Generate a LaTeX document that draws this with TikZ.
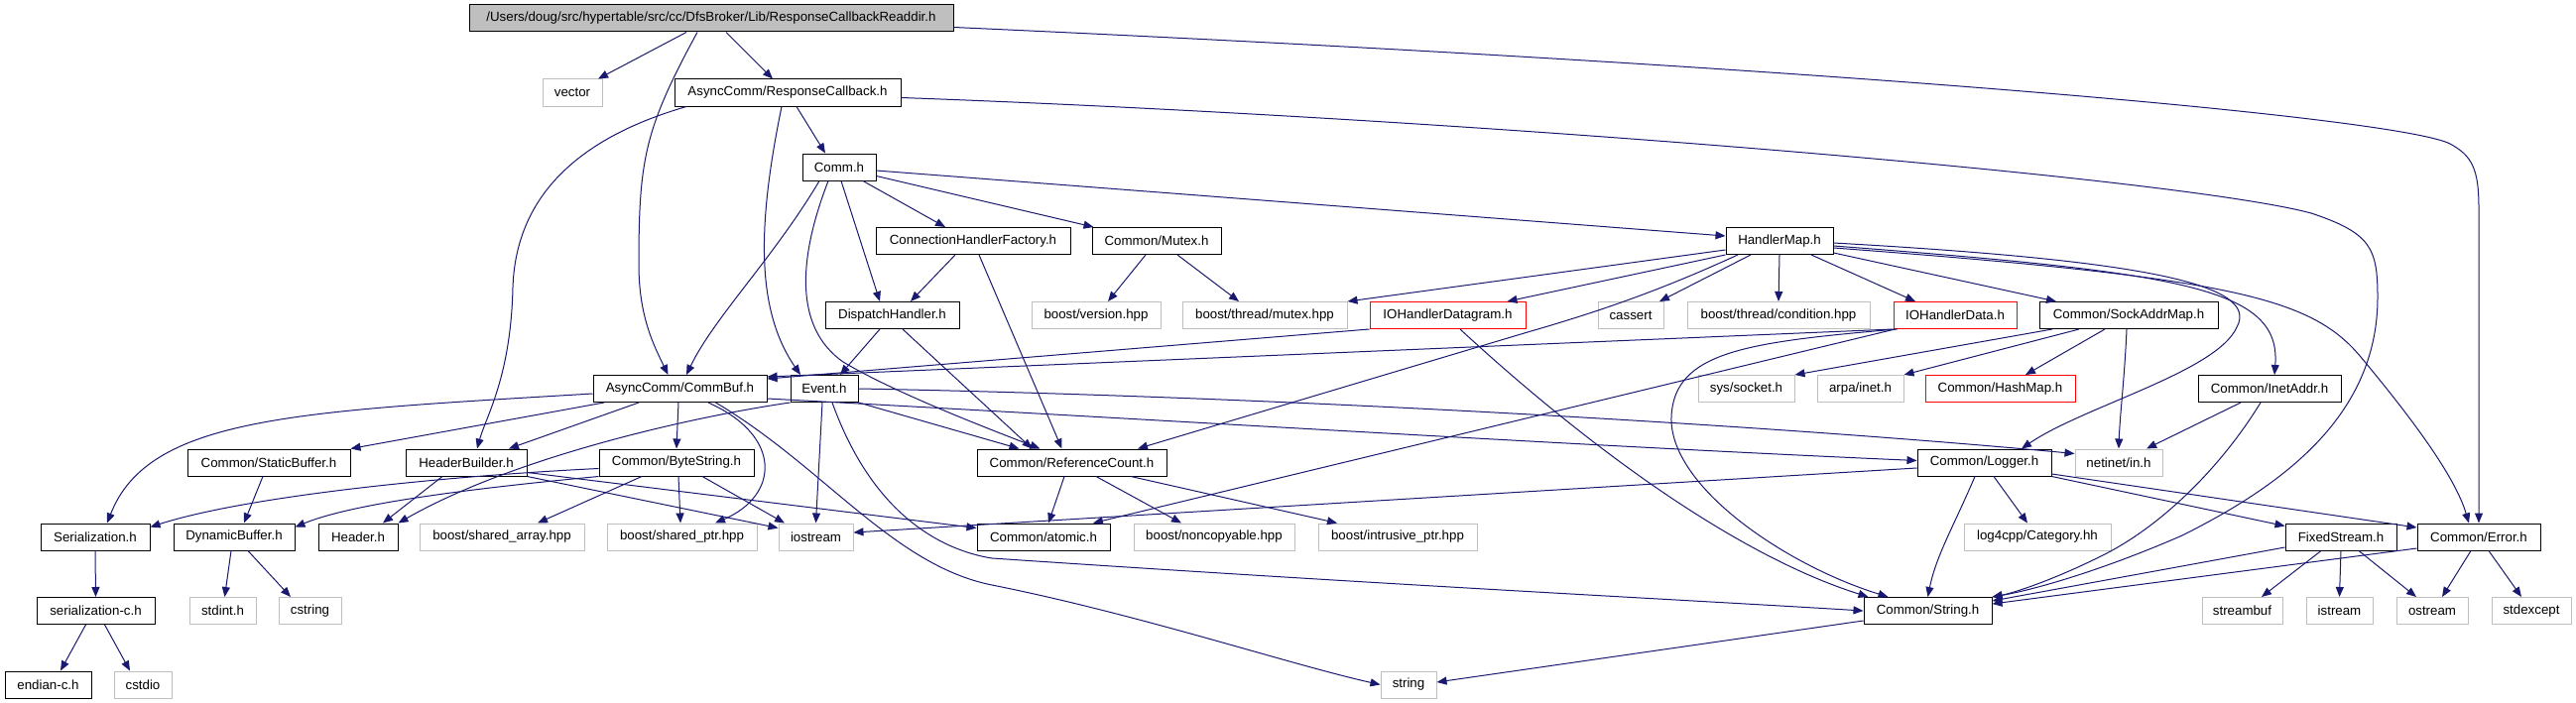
\documentclass[tikz,border=0pt]{standalone}
\usepackage{fontspec}
\setmainfont{Liberation Sans}
\usetikzlibrary{arrows.meta}
\definecolor{edgec}{HTML}{191970}
\definecolor{grayc}{HTML}{BFBFBF}
\begin{document}
\begin{tikzpicture}[x=1pt,y=-1pt,
  font=\fontsize{13.3}{16}\selectfont,
  bx/.style={draw=black,line width=1pt,rectangle,inner sep=0pt,minimum height=27pt,fill=white},
  gx/.style={bx,draw=grayc},
  rx/.style={bx,draw=red},
  e/.style={draw=edgec,line width=1pt,-{Triangle[length=10pt,width=8pt]}}]
\fill[white] (0,0) rectangle (2597,709);
\useasboundingbox (0,0) rectangle (2597,709);
% nodes
\node[bx,fill=grayc,minimum width=488pt] (top) at (717,18.5) {/Users/doug/src/hypertable/src/cc/DfsBroker/Lib/ResponseCallbackReaddir.h};
\node[gx,minimum width=60pt] (vector) at (577,93.5) {vector};
\node[bx,minimum width=228pt] (rc) at (794,93.5) {AsyncComm/ResponseCallback.h};
\node[bx,minimum width=74pt] (comm) at (846,168.5) {Comm.h};
\node[bx,minimum width=196pt] (chf) at (981,243) {ConnectionHandlerFactory.h};
\node[bx,minimum width=130pt] (mutex) at (1166,243) {Common/Mutex.h};
\node[bx,minimum width=108pt] (hm) at (1794,243) {HandlerMap.h};
\node[bx,minimum width=135pt] (disp) at (899.5,318) {DispatchHandler.h};
\node[gx,minimum width=130pt] (bver) at (1105,318) {boost/version.hpp};
\node[gx,minimum width=166pt] (bmut) at (1275,318) {boost/thread/mutex.hpp};
\node[rx,minimum width=157pt] (iodg) at (1459.5,318) {IOHandlerDatagram.h};
\node[gx,minimum width=66pt] (cassert) at (1644,318) {cassert};
\node[gx,minimum width=184pt] (bcond) at (1793,318) {boost/thread/condition.hpp};
\node[rx,minimum width=124pt] (iod) at (1971,318) {IOHandlerData.h};
\node[bx,minimum width=180pt] (sam) at (2146,318) {Common/SockAddrMap.h};
\node[bx,minimum width=175pt] (cb) at (685.5,392) {AsyncComm/CommBuf.h};
\node[bx,minimum width=68pt] (event) at (831,392) {Event.h};
\node[gx,minimum width=97pt] (sock) at (1760.5,392) {sys/socket.h};
\node[gx,minimum width=87pt] (arpa) at (1875.5,392) {arpa/inet.h};
\node[rx,minimum width=151pt] (hash) at (2016.5,392) {Common/HashMap.h};
\node[bx,minimum width=144pt] (inet) at (2288,392) {Common/InetAddr.h};
\node[bx,minimum width=164pt] (sbuf) at (271,466.5) {Common/StaticBuffer.h};
\node[bx,minimum width=122pt] (hb) at (470,466.5) {HeaderBuilder.h};
\node[bx,minimum width=156pt] (bs) at (682,466.5) {Common/ByteString.h};
\node[bx,minimum width=191pt] (rcnt) at (1080.5,466.5) {Common/ReferenceCount.h};
\node[bx,minimum width=135pt] (log) at (2000.5,466.5) {Common/Logger.h};
\node[gx,minimum width=88pt] (netin) at (2136,466.5) {netinet/in.h};
\node[bx,minimum width=110pt] (ser) at (96,541.5) {Serialization.h};
\node[bx,minimum width=122pt] (dbuf) at (236,541.5) {DynamicBuffer.h};
\node[bx,minimum width=80pt] (hdr) at (361,541.5) {Header.h};
\node[gx,minimum width=166pt] (sarr) at (506,541.5) {boost/shared\_array.hpp};
\node[gx,minimum width=151pt] (sptr) at (687.5,541.5) {boost/shared\_ptr.hpp};
\node[gx,minimum width=75pt] (iostr) at (822.5,541.5) {iostream};
\node[bx,minimum width=134pt] (atom) at (1052,541.5) {Common/atomic.h};
\node[gx,minimum width=162pt] (nonc) at (1224,541.5) {boost/noncopyable.hpp};
\node[gx,minimum width=160pt] (intr) at (1409,541.5) {boost/intrusive\_ptr.hpp};
\node[gx,minimum width=148pt] (l4c) at (2054,541.5) {log4cpp/Category.hh};
\node[bx,minimum width=112pt] (fs) at (2360,541.5) {FixedStream.h};
\node[bx,minimum width=124pt] (err) at (2499,541.5) {Common/Error.h};
\node[bx,minimum width=119pt] (serc) at (96.5,616) {serialization-c.h};
\node[gx,minimum width=67pt] (stdint) at (224.5,616) {stdint.h};
\node[gx,minimum width=63pt] (cstring) at (312.5,616) {cstring};
\node[bx,minimum width=129pt] (str) at (1943.5,616) {Common/String.h};
\node[gx,minimum width=81pt] (sbufh) at (2260.5,616) {streambuf};
\node[gx,minimum width=67pt] (istr) at (2358.5,616) {istream};
\node[gx,minimum width=72pt] (ostr) at (2452,616) {ostream};
\node[gx,minimum width=80pt] (stdex) at (2552,616) {stdexcept};
\node[bx,minimum width=87pt] (endian) at (48.5,690.5) {endian-c.h};
\node[gx,minimum width=58pt] (cstdio) at (144,690.5) {cstdio};
\node[gx,minimum width=56pt] (strg) at (1420,690.5) {string};
% edges: top
\draw[e] ([xshift=-25pt]top.south) -- ([xshift=26pt]vector.north);
\draw[e] ([xshift=15pt]top.south) -- ([xshift=-15pt]rc.north);
\draw[e] ([xshift=-14pt]top.south) .. controls (650,130) and (644,160) .. (644,267) .. controls (644,320) and (660,350) .. ([xshift=-12pt]cb.north);
\draw[e] ([yshift=-9pt]top.east) .. controls (1900,70) and (2420,120) .. (2470,145) .. controls (2492,157) and (2499,170) .. (2499,210) -- (err.north);
% ResponseCallback
\draw[e] ([yshift=-5pt]rc.east) .. controls (1500,120) and (2200,180) .. (2330,215) .. controls (2390,235) and (2397,250) .. (2397,300) .. controls (2397,420) and (2300,490) .. (2200,540) .. controls (2120,575) and (2050,595) .. (str.north east);
\draw[e] ([xshift=9pt]rc.south) -- ([xshift=-14pt]comm.north);
\draw[e] ([xshift=-102pt]rc.south) .. controls (580,140) and (520,200) .. (517,290) .. controls (515,380) and (490,420) .. ([xshift=11pt]hb.north);
\draw[e] ([xshift=-6pt]rc.south) .. controls (765,220) and (760,310) .. ([xshift=-24pt]event.north);
% Comm
\draw[e] ([yshift=-3.5pt]comm.east) -- ([yshift=5pt]hm.west);
\draw[e] ([yshift=-9pt]comm.east) -- ([xshift=2pt]mutex.north west);
\draw[e] ([xshift=24pt]comm.south) -- ([xshift=-28pt]chf.north);
\draw[e] ([xshift=2pt]comm.south) -- ([xshift=-12.5pt]disp.north);
\draw[e] ([xshift=-20pt]comm.south) .. controls (780,260) and (720,320) .. ([xshift=6.5pt]cb.north);
\draw[e] ([xshift=-11pt]comm.south) .. controls (805,260) and (800,330) .. (850,365) .. controls (900,395) and (990,430) .. ([xshift=-32pt]rcnt.north);
% CHF, Dispatch, Mutex
\draw[e] ([xshift=-18pt]chf.south) -- ([xshift=18.5pt]disp.north);
\draw[e] ([xshift=6pt]chf.south) -- ([xshift=-10pt]rcnt.north);
\draw[e] ([xshift=-12.5pt]disp.south) -- ([xshift=16pt]event.north);
\draw[e] ([xshift=10.5pt]disp.south) -- ([xshift=-40pt]rcnt.north);
\draw[e] ([xshift=-11pt]mutex.south) -- ([xshift=12pt]bver.north);
\draw[e] ([xshift=21pt]mutex.south) -- ([xshift=-26pt]bmut.north);
% HandlerMap
\draw[e] ([yshift=-9pt]hm.west) -- (bmut.north east);
\draw[e] (hm.south west) -- ([xshift=60pt]iodg.north);
\draw[e] ([xshift=-42pt]hm.south) .. controls (1680,290) and (1620,312) .. (1540,335) -- ([xshift=66.5pt]rcnt.north);
\draw[e] ([xshift=-29pt]hm.south) -- ([xshift=29pt]cassert.north);
\draw[e] (hm.south) -- (bcond.north);
\draw[e] ([xshift=32pt]hm.south) -- ([xshift=-40pt]iod.north);
\draw[e] ([yshift=-12pt]hm.east) -- ([xshift=-73pt]sam.north);
\draw[e] ([yshift=-2pt]hm.east) .. controls (2150,262) and (2280,285) .. (2255,330) .. controls (2235,375) and (2100,410) .. ([xshift=37.5pt]log.north);
\draw[e] ([yshift=-5pt]hm.east) .. controls (2200,275) and (2300,290) .. ([xshift=5pt]inet.north);
\draw[e] ([yshift=-7pt]hm.east) .. controls (2250,280) and (2330,300) .. (2380,360) .. controls (2430,420) and (2475,480) .. ([xshift=-10pt]err.north);
% IOHandlers
\draw[e] (iodg.south west) -- ([yshift=-4pt]cb.north east);
\draw[e] ([xshift=12.5pt]iodg.south) .. controls (1600,450) and (1750,560) .. ([xshift=-60pt]str.north);
\draw[e] (iod.south west) -- ([yshift=-2pt]cb.north east);
\draw[e] ([xshift=2pt]iod.south west) -- ([xshift=50pt]atom.north);
\draw[e] ([xshift=4pt]iod.south west) .. controls (1760,345) and (1688,355) .. (1685,420) .. controls (1682,490) and (1800,570) .. ([xshift=-40pt]str.north);
% SockAddrMap
\draw[e] ([xshift=-77pt]sam.south) -- (sock.north east);
\draw[e] ([xshift=-50pt]sam.south) -- (arpa.north east);
\draw[e] ([xshift=-24pt]sam.south) -- ([xshift=25.5pt]hash.north);
\draw[e] ([xshift=-2pt]sam.south) .. controls (2142,380) and (2137,420) .. (netin.north);
% CommBuf
\draw[e] ([yshift=-5pt]cb.west) .. controls (300,415) and (150,420) .. ([xshift=12pt]ser.north);
\draw[e] ([xshift=-76.5pt]cb.south) -- (sbuf.north east);
\draw[e] ([xshift=-41.5pt]cb.south) -- ([xshift=43pt]hb.north);
\draw[e] ([xshift=-1.5pt]cb.south) -- (bs.north);
\draw[e] ([xshift=28.5pt]cb.south) .. controls (790,440) and (785,500) .. ([xshift=33.5pt]sptr.north);
\draw[e] ([xshift=36pt]cb.south) .. controls (830,470) and (900,570) .. (1000,590) .. controls (1150,620) and (1300,670) .. (strg.west);
\draw[e] ([yshift=-10pt]cb.east) .. controls (1200,425) and (1600,450) .. ([yshift=2pt]log.west);
% Event
\draw[e] (event.east) .. controls (1300,400) and (1800,430) .. ([yshift=9pt]netin.west);
\draw[e] (event.south east) -- ([xshift=-53pt]rcnt.north);
\draw[e] (event.south west) .. controls (700,420) and (520,460) .. (hdr.north east);
\draw[e] ([xshift=-2pt]event.south) -- (iostr.north);
\draw[e] ([xshift=8pt]event.south) .. controls (880,520) and (950,555) .. (1000,563) .. controls (1400,590) and (1700,605) .. (str.west);
% HeaderBuilder
\draw[e] ([xshift=-24pt]hb.south) -- ([xshift=25pt]hdr.north);
\draw[e] (hb.south east) -- ([yshift=9pt]iostr.west);
\draw[e] ([yshift=-10pt]hb.east) -- ([yshift=9pt]atom.west);
% ByteString
\draw[e] ([yshift=-6pt]bs.west) .. controls (450,480) and (250,500) .. ([yshift=-4pt]ser.north east);
\draw[e] (bs.south west) .. controls (450,495) and (350,510) .. ([yshift=-4pt]dbuf.north east);
\draw[e] ([xshift=-35pt]bs.south) -- ([xshift=36pt]sarr.north);
\draw[e] ([xshift=2pt]bs.south) -- ([xshift=-1.5pt]sptr.north);
\draw[e] ([xshift=26pt]bs.south) -- ([xshift=-31.5pt]iostr.north);
% small ones
\draw[e] ([xshift=-6pt]sbuf.south) -- ([xshift=10pt]dbuf.north);
\draw[e] (ser.south) -- (serc.north);
\draw[e] ([xshift=-10pt]serc.south) -- ([xshift=12.5pt]endian.north);
\draw[e] ([xshift=9pt]serc.south) -- ([xshift=-13pt]cstdio.north);
\draw[e] ([xshift=-3pt]dbuf.south) -- ([xshift=2pt]stdint.north);
\draw[e] ([xshift=14pt]dbuf.south) -- ([xshift=-19.5pt]cstring.north);
\draw[e] ([xshift=-7.5pt]rcnt.south) -- ([xshift=5pt]atom.north);
\draw[e] ([xshift=24.5pt]rcnt.south) -- ([xshift=-33pt]nonc.north);
\draw[e] ([xshift=59.5pt]rcnt.south) -- ([xshift=-61pt]intr.north);
% Logger
\draw[e] ([yshift=-5.5pt]log.west) -- ([yshift=4.5pt]iostr.east);
\draw[e] ([xshift=-9.5pt]log.south) .. controls (1970,530) and (1952,560) .. (str.north);
\draw[e] ([xshift=9.5pt]log.south) -- ([xshift=-10pt]l4c.north);
\draw[e] (log.south east) -- ([yshift=11pt]fs.west);
\draw[e] ([yshift=-11.5pt]log.east) -- ([yshift=9.5pt]err.west);
% InetAddr
\draw[e] ([xshift=-29pt]inet.south) -- ([xshift=28pt]netin.north);
\draw[e] ([xshift=-9pt]inet.south) .. controls (2240,470) and (2180,530) .. (2120,560) .. controls (2070,585) and (2030,598) .. (str.north east);
% FixedStream, Error
\draw[e] ([yshift=-10.5pt]fs.west) -- ([yshift=-4pt]str.north east);
\draw[e] ([xshift=-20pt]fs.south) -- ([xshift=19.5pt]sbufh.north);
\draw[e] (fs.south) -- (istr.north);
\draw[e] ([xshift=18pt]fs.south) -- ([xshift=-16pt]ostr.north);
\draw[e] ([yshift=-11.5pt]err.west) -- ([yshift=-7pt]str.north east);
\draw[e] ([xshift=-8pt]err.south) -- ([xshift=10pt]ostr.north);
\draw[e] ([xshift=10pt]err.south) -- ([xshift=-10pt]stdex.north);
\draw[e] ([yshift=-10pt]str.west) -- ([yshift=2.5pt]strg.east);
\end{tikzpicture}
\end{document}
